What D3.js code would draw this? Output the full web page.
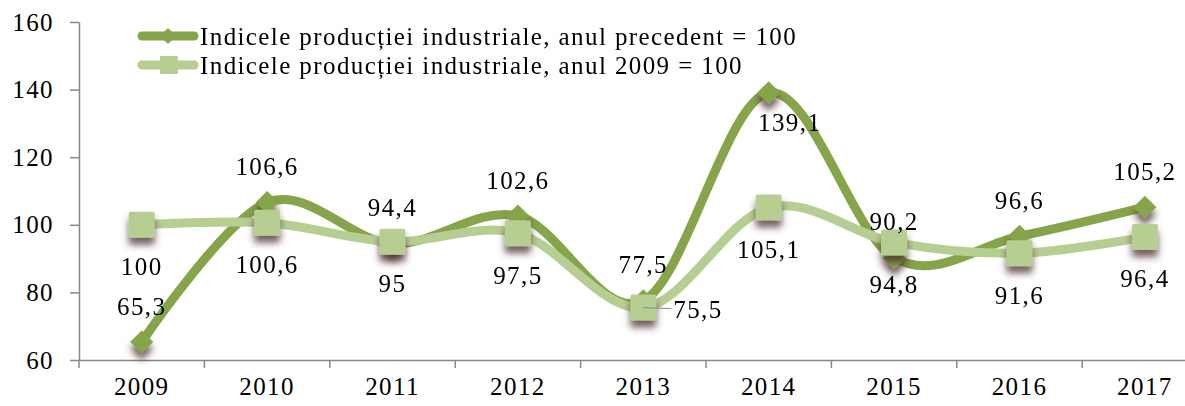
<!DOCTYPE html>
<html>
<head>
<meta charset="utf-8">
<script src="https://cdn.jsdelivr.net/npm/d3@7"></script>
<style>
  html, body { margin: 0; padding: 0; background: #fff; }
  svg { display: block; }
  text { font-family: "Liberation Serif", "DejaVu Serif", serif; fill: #000; letter-spacing: 1.4px; }
</style>
</head>
<body>
<svg id="chart" width="1185" height="406"></svg>
<script>
// ---- data ----
const years = ["2009", "2010", "2011", "2012", "2013", "2014", "2015", "2016", "2017"];
const prevYearIndex = [65.3, 106.6, 94.4, 102.6, 77.5, 139.1, 90.2, 96.6, 105.2];
const base2009Index = [100, 100.6, 95, 97.5, 75.5, 105.1, 94.8, 91.6, 96.4];
const yTickValues = [60, 80, 100, 120, 140, 160];
const seriesNames = [
  "Indicele producției industriale, anul precedent = 100",
  "Indicele producției industriale, anul 2009 = 100"
];
const prevLabelPlacement = ["above", "above", "above", "above", "above", "belowRight", "above", "above", "above"];
const baseLabelPlacement = ["below", "below", "below", "below", "right", "below", "below", "below", "below"];

(function () {
// ---- layout ----
const svg = d3.select("#chart");
const padL = 79, padT = 22, baseY = 360, band = 125.4;
const colDark = "#86A44A", colLight = "#B7CE93", axisCol = "#888888";
const FS = 25;

const x = d3.scaleBand().domain(years).range([padL, padL + band * years.length]).padding(0);
const y = d3.scaleLinear().domain([60, 160]).range([baseY, padT]);
const cx = d => x(d) + x.bandwidth() / 2;

// shadow filter
const defs = svg.append("defs");
const f = defs.append("filter").attr("id", "shadow").attr("x", "-60%").attr("y", "-60%").attr("width", "220%").attr("height", "240%");
f.append("feGaussianBlur").attr("in", "SourceAlpha").attr("stdDeviation", 3.5).attr("result", "b");
f.append("feOffset").attr("in", "b").attr("dx", 0).attr("dy", 7).attr("result", "o");
f.append("feFlood").attr("flood-color", "#4a2a2a").attr("flood-opacity", 0.75).attr("result", "c");
f.append("feComposite").attr("in", "c").attr("in2", "o").attr("operator", "in").attr("result", "s");
const m = f.append("feMerge");
m.append("feMergeNode").attr("in", "s");
m.append("feMergeNode").attr("in", "SourceGraphic");

// y axis
const yAxis = svg.append("g").attr("transform", `translate(${padL},0)`)
  .call(d3.axisLeft(y).tickValues(yTickValues).tickSize(9).tickSizeOuter(0).tickPadding(16).tickFormat(d3.format("d")));
yAxis.select(".domain").attr("stroke", axisCol).attr("stroke-width", 1.5);
yAxis.selectAll(".tick line").attr("stroke", axisCol).attr("stroke-width", 1.5);
yAxis.selectAll(".tick text").attr("font-size", FS).attr("font-family", "Liberation Serif").attr("fill", "#000");

// x axis
const xAxis = svg.append("g").attr("transform", `translate(0,${baseY})`)
  .call(d3.axisBottom(x).tickSize(8).tickSizeOuter(0).tickPadding(9));
xAxis.select(".domain").attr("stroke", axisCol).attr("stroke-width", 1.5);
xAxis.selectAll(".tick line").attr("stroke", axisCol).attr("stroke-width", 1.5)
  .attr("transform", `translate(${-x.bandwidth() / 2},0)`);
xAxis.selectAll(".tick text").attr("font-size", FS).attr("font-family", "Liberation Serif").attr("fill", "#000");

// lines
const line = d3.line().x((d, i) => cx(years[i])).y(d => y(d)).curve(d3.curveCardinal.tension(0));
const diamond = s => `M0,${-s}L${s},0L0,${s}L${-s},0Z`;

function drawSeries(vals, color, markerType) {
  svg.append("path").datum(vals).attr("d", line).attr("fill", "none")
    .attr("stroke", color).attr("stroke-width", 9).attr("stroke-linecap", "round").attr("stroke-linejoin", "round");
  const g = svg.append("g").attr("filter", "url(#shadow)");
  vals.forEach((v, i) => {
    if (markerType === "diamond") {
      g.append("path").attr("d", diamond(11.5)).attr("fill", color)
        .attr("transform", `translate(${cx(years[i])},${y(v)})`);
    } else {
      g.append("rect").attr("x", cx(years[i]) - 13).attr("y", y(v) - 13).attr("width", 26).attr("height", 26)
        .attr("rx", 2).attr("fill", color);
    }
  });
}
drawSeries(prevYearIndex, colDark, "diamond");
drawSeries(base2009Index, colLight, "square");

// data labels
const fmt = v => String(v).replace(".", ",");
function drawLabels(vals, placement) {
  vals.forEach((v, i) => {
    const px = cx(years[i]), py = y(v);
    let dx = 0, dy = 0, anchor = "middle";
    const p = placement[i];
    if (p === "above") dy = -36;
    else if (p === "below") dy = 42;
    else if (p === "belowRight") { dx = 21; dy = 30; }
    else if (p === "right") {
      dx = 30; dy = 2; anchor = "start";
      svg.append("line").attr("x1", px).attr("y1", py).attr("x2", px + 28).attr("y2", py + 1)
        .attr("stroke", "#8a8a8a").attr("stroke-width", 1);
    }
    svg.append("text").attr("x", px + dx).attr("y", py + dy).attr("text-anchor", anchor)
      .attr("dominant-baseline", "central").attr("font-size", FS).text(fmt(v));
  });
}
drawLabels(prevYearIndex, prevLabelPlacement);
drawLabels(base2009Index, baseLabelPlacement);

// legend
const legend = svg.append("g");
const legY = [36, 65];
const legCols = [colDark, colLight];
legY.forEach((ly, i) => {
  legend.append("line").attr("x1", 142).attr("x2", 194).attr("y1", ly).attr("y2", ly)
    .attr("stroke", legCols[i]).attr("stroke-width", 9).attr("stroke-linecap", "round");
  if (i === 0) legend.append("path").attr("d", diamond(8)).attr("fill", legCols[i]).attr("transform", `translate(168,${ly})`);
  else legend.append("rect").attr("x", 160).attr("y", ly - 9).attr("width", 18).attr("height", 18).attr("rx", 1).attr("fill", legCols[i]);
  legend.append("text").attr("x", 200).attr("y", ly).attr("dominant-baseline", "central")
    .attr("font-size", FS).text(seriesNames[i]);
});
})();
</script>
</body>
</html>
